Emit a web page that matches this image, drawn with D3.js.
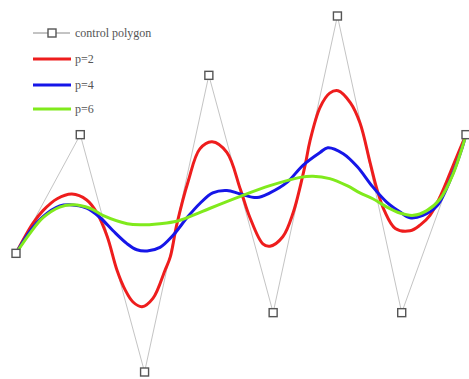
<!DOCTYPE html>
<html lang="en">
<head>
    <meta charset="UTF-8">
    <title>B-spline degrees</title>
    <style>
        body { margin: 0; background: #fff; }
        text { font-family: "Liberation Serif", "DejaVu Serif", serif; }
    </style>
</head>
<body>
<script src="https://d3js.org/d3.v7.min.js"></script>
<script>

  // control polygon
  var ctrlX = [0, 1, 2, 3, 4, 5, 6, 7];
  var ctrlY = [0, 1, -1, 1.5, -0.5, 2, -0.5, 1];

  // curves
  var redX = [0, 0.26, 0.42, 0.64, 0.87, 1.10, 1.26, 1.42, 1.57, 1.70, 1.82, 1.96, 2.13, 2.32, 2.40, 2.50, 2.68, 2.86, 3.05, 3.28, 3.49, 3.64, 3.84, 3.95, 4.15, 4.31, 4.50, 4.57, 4.73, 4.88, 5.01, 5.20, 5.35, 5.51, 5.62, 5.73, 5.90, 6.13, 6.29, 6.44, 6.60, 6.80, 7.0];
  var redY = [0, 0.25, 0.36, 0.46, 0.50, 0.45, 0.34, 0.14, -0.14, -0.31, -0.41, -0.45, -0.38, -0.14, -0.03, 0.24, 0.61, 0.88, 0.94, 0.85, 0.54, 0.30, 0.08, 0.06, 0.14, 0.34, 0.75, 0.94, 1.23, 1.35, 1.37, 1.27, 1.10, 0.76, 0.53, 0.36, 0.21, 0.19, 0.24, 0.32, 0.48, 0.74, 1.0];

  var blueX = [0, 0.22, 0.42, 0.68, 0.84, 1.10, 1.31, 1.51, 1.73, 1.88, 2.04, 2.24, 2.44, 2.66, 2.86, 3.06, 3.28, 3.49, 3.75, 3.95, 4.22, 4.46, 4.73, 4.85, 5.09, 5.31, 5.55, 5.77, 5.97, 6.13, 6.33, 6.55, 6.80, 6.94, 7.0];
  var blueY = [0, 0.19, 0.31, 0.40, 0.41, 0.38, 0.30, 0.19, 0.08, 0.03, 0.02, 0.05, 0.15, 0.30, 0.42, 0.51, 0.53, 0.50, 0.47, 0.51, 0.60, 0.74, 0.85, 0.89, 0.84, 0.73, 0.56, 0.43, 0.35, 0.30, 0.32, 0.40, 0.68, 0.89, 1.0];

  var greenX = [0, 0.22, 0.42, 0.68, 0.89, 1.15, 1.35, 1.73, 1.93, 2.24, 2.50, 2.75, 3.02, 3.49, 3.95, 4.42, 4.62, 4.88, 5.15, 5.35, 5.55, 5.77, 5.97, 6.18, 6.39, 6.60, 6.80, 6.94, 7.0];
  var greenY = [0, 0.17, 0.30, 0.39, 0.41, 0.38, 0.32, 0.25, 0.24, 0.25, 0.27, 0.32, 0.38, 0.48, 0.57, 0.64, 0.65, 0.63, 0.57, 0.51, 0.46, 0.39, 0.34, 0.32, 0.36, 0.46, 0.67, 0.89, 1.0];

  var legendLabels = ["control polygon", "p=2", "p=4", "p=6"];
  var colors = ["#ee1d1d", "#1616e8", "#80ea1c"];

  var width = 469, height = 379;

  var svg = d3.select("body").append("svg")
          .attr("width", width)
          .attr("height", height);

  var x = d3.scaleLinear().domain([0, 7]).range([16, 466]);
  var y = d3.scaleLinear().domain([-1, 2]).range([372, 16]);

  var line = d3.line()
          .x(function(d) { return x(d[0]); })
          .y(function(d) { return y(d[1]); });

  var smooth = d3.line()
          .x(function(d) { return x(d[0]); })
          .y(function(d) { return y(d[1]); })
          .curve(d3.curveCatmullRom.alpha(0.5));

  var ctrl = d3.zip(ctrlX, ctrlY);

  // polygon first, curves over it
  svg.append("path")
          .attr("d", line(ctrl))
          .attr("fill", "none")
          .attr("stroke", "#c4c4c4")
          .attr("stroke-width", 1);

  var curves = [d3.zip(redX, redY), d3.zip(blueX, blueY), d3.zip(greenX, greenY)];

  svg.selectAll(".curve")
          .data(curves)
          .enter().append("path")
          .attr("class", "curve")
          .attr("d", smooth)
          .attr("fill", "none")
          .attr("stroke", function(d, i) { return colors[i]; })
          .attr("stroke-width", 3)
          .attr("stroke-linecap", "round");

  svg.selectAll(".pt")
          .data(ctrl)
          .enter().append("rect")
          .attr("class", "pt")
          .attr("x", function(d) { return x(d[0]) - 4; })
          .attr("y", function(d) { return y(d[1]) - 4; })
          .attr("width", 8)
          .attr("height", 8)
          .attr("fill", "#fff")
          .attr("stroke", "#555")
          .attr("stroke-width", 1.4);

  // legend
  var legend = svg.append("g");
  var rowY = [33, 59, 85, 109];

  legendLabels.forEach(function(label, i) {
    var g = legend.append("g").attr("transform", "translate(0," + rowY[i] + ")");
    if (i === 0) {
      g.append("line").attr("x1", 33).attr("x2", 70)
              .attr("stroke", "#888").attr("stroke-width", 1);
      g.append("rect").attr("x", 48).attr("y", -4).attr("width", 8).attr("height", 8)
              .attr("fill", "#fff").attr("stroke", "#555").attr("stroke-width", 1.4);
    } else {
      g.append("line").attr("x1", 33).attr("x2", 71)
              .attr("stroke", colors[i - 1]).attr("stroke-width", 3);
    }
    g.append("text")
            .attr("x", 75)
            .attr("y", 4)
            .attr("font-size", 12)
            .attr("fill", "#555")
            .text(label);
  });

</script>
</body>
</html>
